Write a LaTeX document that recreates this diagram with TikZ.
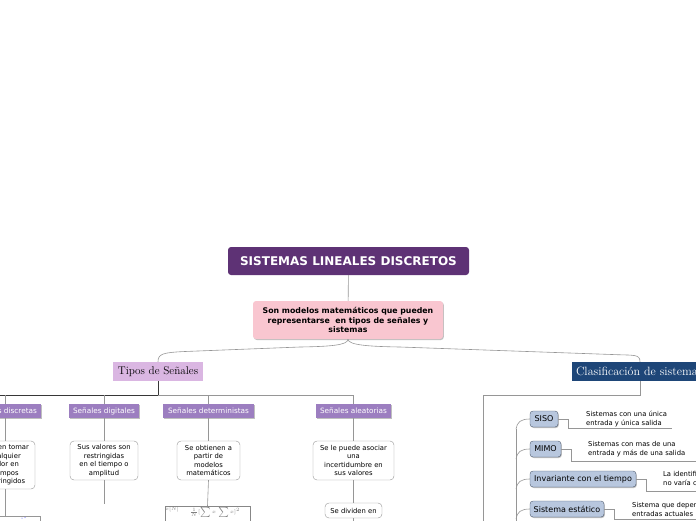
\documentclass[tikz,border=0pt]{standalone}
\usepackage{fontspec}
\newfontfamily\dv{DejaVu Sans}
\usetikzlibrary{shadows}
\definecolor{titlec}{RGB}{94,50,117}
\definecolor{pinkc}{RGB}{249,198,208}
\definecolor{lilac}{RGB}{218,182,226}
\definecolor{catc}{RGB}{156,126,192}
\definecolor{clasc}{RGB}{30,70,120}
\definecolor{itemc}{RGB}{184,199,222}
\definecolor{itemb}{RGB}{80,92,112}
\definecolor{linec}{RGB}{150,150,150}
\definecolor{darkl}{RGB}{55,55,55}
\begin{document}
\begin{tikzpicture}[x=1pt,y=-1pt,
  shad/.style={drop shadow={shadow xshift=0.8pt,shadow yshift=-1pt,opacity=0.25,fill=black}},
  titlebox/.style={fill=titlec,text=white,font=\dv\bfseries\fontsize{12}{14}\selectfont,rounded corners=3pt,minimum width=241pt,minimum height=28pt,inner sep=0pt},
  midbox/.style={fill=pinkc,rounded corners=3pt,font=\dv\bfseries\fontsize{7.8}{9.5}\selectfont,align=center,minimum width=190pt,minimum height=38pt,inner sep=0pt,shad},
  handbox/.style={font=\rmfamily\fontsize{11.2}{12}\selectfont,minimum height=19pt,inner sep=0pt},
  catbox/.style={fill=catc,text=white,font=\dv\fontsize{7.3}{8}\selectfont,minimum height=14pt,inner sep=0pt,shad},
  descbox/.style={draw=linec,fill=white,rounded corners=4pt,font=\dv\fontsize{6.8}{8.5}\selectfont,align=center,inner sep=0pt},
  itembox/.style={draw=itemb,fill=itemc,rounded corners=3pt,font=\dv\fontsize{8}{9}\selectfont,minimum height=16pt,inner sep=0pt,shad},
  notetext/.style={font=\dv\fontsize{6.8}{9}\selectfont,align=left,inner sep=0pt,anchor=west},
  link/.style={draw=linec,line width=0.6pt},
  darklink/.style={draw=darkl,line width=0.6pt}]
\useasboundingbox (0,0) rectangle (696,520);
\clip (0,0) rectangle (696,520);

% main nodes
\node[titlebox] (title) at (348.5,261) {SISTEMAS LINEALES DISCRETOS};
\node[midbox] (mid) at (348,320) {Son modelos matemáticos que pueden\\representarse\ \ en tipos de señales y\\sistemas};
\node[handbox,fill=lilac,minimum width=90pt] (tipos) at (158,371.5) {Tipos de Señales};
\node[handbox,font=\rmfamily\fontsize{12}{13}\selectfont,fill=clasc,text=white,text width=128pt,inner xsep=4pt,align=left] (clas) at (640,371.5) {Clasificación de sistemas};

\draw[link] (title) -- (mid);
\draw[link] (mid.south) .. controls +(0,6) and +(30,-0.5) .. (300,347) -- (185,351.5) .. controls +(-22,1) and +(0,-8) .. (tipos.north);
\draw[link] (mid.south) .. controls +(0,6) and +(-30,-0.5) .. (400,347) -- (612,354.5) .. controls +(22,1) and +(0,-8) .. (clas.north);

% Tipos de senales branch
\node[catbox,minimum width=72pt] (cdisc) at (5,411) {Señales discretas};
\node[catbox,minimum width=70pt] (cdig) at (104,411) {Señales digitales};
\node[catbox,minimum width=91pt] (cdet) at (208.5,411) {Señales deterministas};
\node[catbox,minimum width=75pt] (cale) at (353.5,411) {Señales aleatorias};

\coordinate (hub) at (158,395);
\draw[darklink] (tipos.south) -- (hub) -- (-10,395);
\draw[link] (hub) -- (353.5,395);
\draw[link] (5,395) -- (cdisc.north);
\draw[link] (104,395) -- (cdig.north);
\draw[link] (208.5,395) -- (cdet.north);
\draw[link] (353.5,395) -- (cale.north);

\node[descbox,minimum width=60pt,minimum height=48pt] (ddisc) at (5,465) {Pueden tomar\\cualquier\\valor en\\tiempos\\restringidos};
\node[descbox,minimum width=68pt,minimum height=39pt] (ddig) at (104,460.5) {Sus valores son\\restringidas\\en el tiempo o\\amplitud};
\node[descbox,minimum width=63pt,minimum height=39pt] (ddet) at (208.5,460.5) {Se obtienen a\\partir de\\modelos\\matemáticos};
\node[descbox,minimum width=81pt,minimum height=39pt] (dale) at (353.5,460.5) {Se le puede asociar\\una\\incertidumbre en\\sus valores};

\draw[link] (cdisc) -- (ddisc);
\draw[link] (cdig) -- (ddig);
\draw[link] (cdet) -- (ddet);
\draw[link] (cale) -- (dale);

% lower level
\node[draw=linec,fill=white,minimum width=60pt,minimum height=24pt,inner sep=0pt,anchor=north] (imgdisc) at (10,516) {};
\fill[blue!70] (22,518) circle (0.5pt) (25,517.5) circle (0.5pt);
\draw[link] (ddisc.south) -- (5,516);
\coordinate (digend) at (104,504);
\draw[link] (ddig.south) -- (digend);
\node[draw=darkl!60,fill=white,minimum width=85pt,minimum height=24pt,inner sep=0pt,anchor=north] (imgdet) at (207.5,506) {};
\node[font=\fontsize{2.5}{3}\selectfont,text=gray,inner sep=0pt] (f1) at (172,509.5) {$x[N]$};
\node[font=\fontsize{2.5}{3}\selectfont,text=gray,inner sep=0pt] (f2) at (215,512) {$\textstyle\frac{1}{N}[\sum x\,\sum x]^2$};
\draw[link] (ddet.south) -- (imgdet.north);
\node[descbox,minimum width=57pt,minimum height=15pt] (divide) at (353.5,510.5) {Se dividen en};
\draw[link] (dale) -- (divide);
\coordinate (divend) at (353.5,530);
\draw[link] (divide) -- (divend);

% Clasificacion branch
\draw[link] (clas.south) -- (640,395) -- (483,395) -- (483,530);
\draw[link] (516,429) -- (516,530);

\node[itembox,minimum width=28pt] (siso) at (544,419) {SISO};
\node[itembox,minimum width=31pt] (mimo) at (545.5,449) {MIMO};
\node[itembox,minimum width=106pt] (inv) at (583,479) {Invariante con el tiempo};
\node[itembox,minimum width=74pt] (est) at (567,509) {Sistema estático};

\foreach \n/\y in {siso/419,mimo/449,inv/479,est/509}{
  \draw[link] (516,\y+10) .. controls (517,\y+3) and (521,\y) .. (\n.west);
}

\node[notetext] (nsiso) at (586,419) {Sistemas con una única\\entrada y única salida};
\node[notetext] (nmimo) at (588,449) {Sistemas con mas de una\\entrada y más de una salida};
\node[notetext] (ninv) at (663,479) {La identificación del sistema\\no varía con el tiempo};
\node[notetext] (nest) at (632,509) {Sistema que depende de las\\entradas actuales};

\draw[link] (siso.east) -- (568,419) -- (568,428) -- (672,428);
\draw[link] (mimo.east) -- (571,449) -- (571,461) -- (700,461);
\draw[link] (inv.east) -- (646,479) -- (646,491) -- (700,491);
\draw[link] (est.east) -- (614,509) -- (614,519) -- (700,519);
\end{tikzpicture}
\end{document}
